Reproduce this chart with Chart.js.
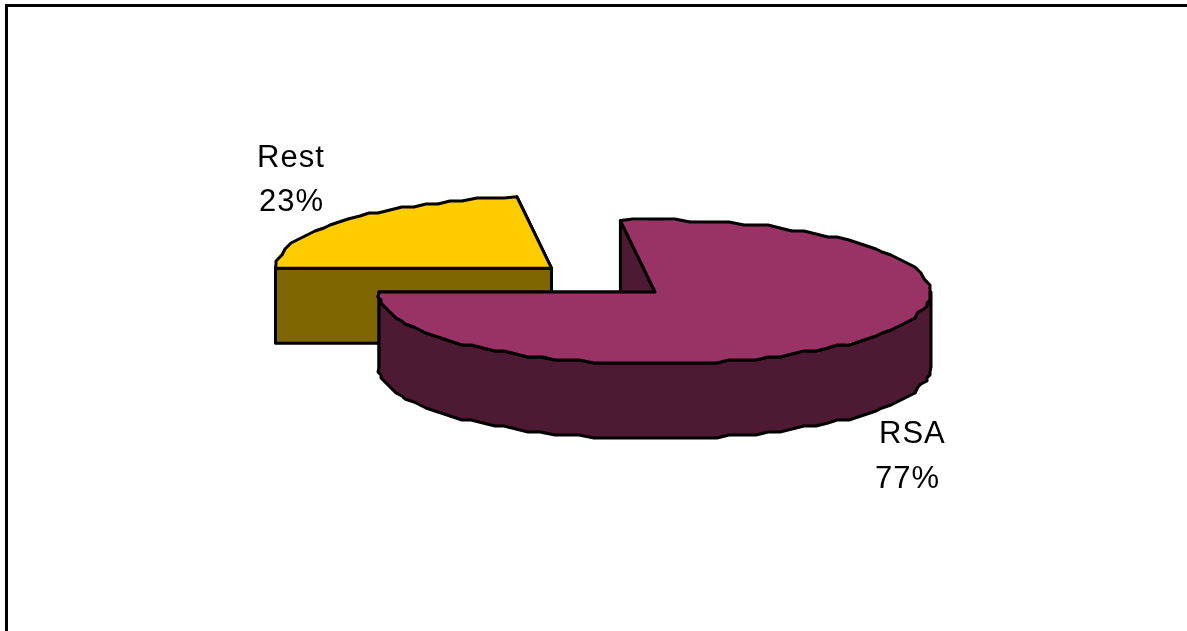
<!DOCTYPE html>
<html>
<head>
<meta charset="utf-8">
<style>
  html, body { margin: 0; padding: 0; background: #fff; overflow: hidden; }
  canvas { display: block; }
</style>
<script src="https://cdn.jsdelivr.net/npm/chart.js@4/dist/chart.umd.min.js"></script>
</head>
<body>
<canvas id="pieChart" width="1187" height="631"></canvas>
<script>
const categories = ["Rest", "RSA"];
const shares = [23, 77];
const topColors = ["#ffcc00", "#993366"];
const sideColors = ["#806600", "#4d1933"];
const explode = [552, 0]; // arc element only moves by offset / 4

// flattened 3D look
const centerX = 655, centerY = 292, squash = 0.2609, depth = 75;
const labelSpots = [[[257, 167], [259, 211]], [[879, 443], [875, 488]]];

const tilt = (chart, ctx) => {
  const { x, y } = chart.getDatasetMeta(0).data[0];
  ctx.translate(centerX, centerY);
  ctx.scale(1, squash);
  ctx.translate(-x, -y);
};

// rim as a coarse stepped line, the original has no smooth curves
const rim = (ctx, cx, cy, rx, ry, from, to) => {
  const steps = Math.max(2, Math.ceil(Math.abs(to - from) / 0.05));
  for (let s = 0; s <= steps; s++) {
    const a = from + (to - from) * s / steps;
    let x = cx + Math.cos(a) * rx, y = cy + Math.sin(a) * ry;
    if (s > 0 && s < steps) {
      x = Math.round(x / 3) * 3;
      y = Math.round(y / 3) * 3;
    }
    ctx.lineTo(x, y);
  }
};

const pie3d = {
  id: "pie3d",
  beforeDatasetDraw(chart, args) {
    const ctx = chart.ctx;

    args.meta.data.forEach((arc, i) => {
      const mid = (arc.startAngle + arc.endAngle) / 2;
      const shift = explode[i] / 4;
      const cx = centerX + Math.cos(mid) * shift;
      const cy = centerY + Math.sin(mid) * shift * squash;
      const rx = arc.outerRadius, ry = rx * squash;
      const px = a => cx + Math.cos(a) * rx;
      const py = a => cy + Math.sin(a) * ry;

      ctx.save();
      ctx.lineWidth = 3;
      ctx.lineJoin = "round";
      ctx.strokeStyle = "#000";
      ctx.fillStyle = sideColors[i];

      // cut faces, back one first
      [arc.endAngle, arc.startAngle].forEach(a => {
        ctx.beginPath();
        ctx.moveTo(cx, cy);
        ctx.lineTo(px(a), py(a));
        ctx.lineTo(px(a), py(a) + depth);
        ctx.lineTo(cx, cy + depth);
        ctx.closePath();
        ctx.fill();
        ctx.stroke();
      });

      // outer wall, only the part facing front
      const turn = Math.floor(arc.startAngle / (2 * Math.PI)) * 2 * Math.PI;
      [0, 2 * Math.PI].forEach(k => {
        const from = Math.max(arc.startAngle, turn + k);
        const to = Math.min(arc.endAngle, turn + k + Math.PI);
        if (to <= from) return;
        ctx.beginPath();
        rim(ctx, cx, cy, rx, ry, from, to);
        rim(ctx, cx, cy + depth, rx, ry, to, from);
        ctx.closePath();
        ctx.fill();
        ctx.stroke();
      });

      // top face through the library arc
      ctx.save();
      tilt(chart, ctx);
      arc.draw(ctx);
      ctx.restore();

      ctx.beginPath();
      ctx.moveTo(cx, cy);
      rim(ctx, cx, cy, rx, ry, arc.startAngle, arc.endAngle);
      ctx.closePath();
      ctx.stroke();
      ctx.restore();
    });
    return false;
  },
  afterDraw(chart) {
    const ctx = chart.ctx;
    ctx.save();
    // frame, cropped on the right and at the bottom
    ctx.fillStyle = "#000";
    ctx.fillRect(5, 4, 3, 627);
    ctx.fillRect(5, 4, 1182, 3);

    ctx.font = "31px 'Liberation Sans', Arial, sans-serif";
    ctx.letterSpacing = "1px";
    ctx.textAlign = "left";
    ctx.textBaseline = "alphabetic";
    categories.forEach((name, i) => {
      const [top, bottom] = labelSpots[i];
      ctx.fillText(name, top[0], top[1]);
      ctx.fillText(shares[i] + "%", bottom[0], bottom[1]);
    });
    ctx.restore();
  }
};

new Chart(document.getElementById("pieChart"), {
  type: "pie",
  data: {
    labels: categories,
    datasets: [{
      data: shares,
      backgroundColor: topColors,
      borderWidth: 0,
      offset: explode
    }]
  },
  options: {
    responsive: false,
    animation: false,
    rotation: 270,
    radius: 276,
    events: [],
    plugins: { legend: { display: false }, tooltip: { enabled: false } }
  },
  plugins: [pie3d]
});
</script>
</body>
</html>
